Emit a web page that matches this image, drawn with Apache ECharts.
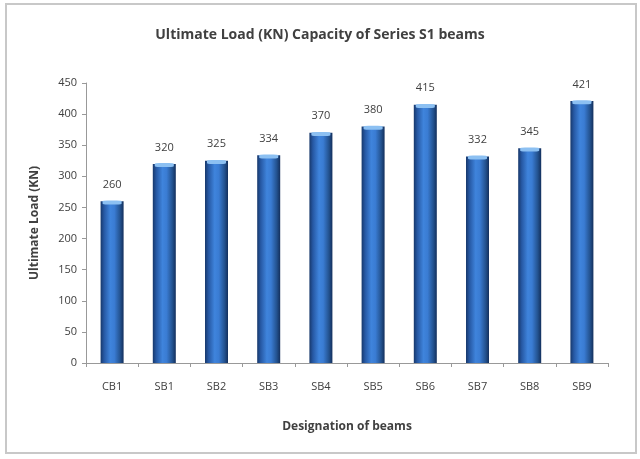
<!DOCTYPE html>
<html>
<head>
<meta charset="utf-8">
<script src="https://cdn.jsdelivr.net/npm/echarts@6/dist/echarts.min.js"></script>
<style>
  html, body { margin: 0; padding: 0; background: #ffffff; }
  #chart { width: 640px; height: 459px; }
</style>
</head>
<body>
<div id="chart"></div>
<script>
// Beam designations and their ultimate load capacities (kN)
const beams = ['CB1', 'SB1', 'SB2', 'SB3', 'SB4', 'SB5', 'SB6', 'SB7', 'SB8', 'SB9'];
const ultimateLoad = [260, 320, 325, 334, 370, 380, 415, 332, 345, 421];
const yTicks = { min: 0, max: 450, interval: 50 };

const FONT = '"Open Sans", sans-serif';
const TEXT = '#404040';

const chart = echarts.init(document.getElementById('chart'), null, { renderer: 'canvas' });

// cylindrical shading across each bar
const barFill = new echarts.graphic.LinearGradient(0, 0, 1, 0, [
  { offset: 0, color: '#17386b' },
  { offset: 0.15, color: '#2658a3' },
  { offset: 0.42, color: '#3f84dc' },
  { offset: 0.6, color: '#3a7cd3' },
  { offset: 0.85, color: '#23528f' },
  { offset: 1, color: '#132f5c' }
]);

chart.setOption({
  backgroundColor: '#ffffff',
  animation: false,
  title: {
    text: 'Ultimate Load (KN) Capacity of Series S1 beams',
    left: 'center',
    top: 23,
    textStyle: { fontFamily: FONT, fontSize: 14, fontWeight: 'bold', color: TEXT }
  },
  graphic: [{
    type: 'rect',
    shape: { x: 6, y: 4, width: 630, height: 449 },
    style: { fill: 'none', stroke: '#c8c8c8', lineWidth: 2 },
    silent: true
  }],
  grid: { left: 86, right: 32, top: 83, bottom: 96 },
  xAxis: {
    type: 'category',
    data: beams,
    name: 'Designation of beams',
    nameLocation: 'middle',
    nameGap: 58,
    nameTextStyle: { fontFamily: FONT, fontSize: 12, fontWeight: 'bold', color: TEXT },
    axisLine: { lineStyle: { color: '#999999' } },
    axisTick: { show: true, length: 4, lineStyle: { color: '#999999' } },
    axisLabel: { fontFamily: FONT, fontSize: 11, color: TEXT, margin: 18 }
  },
  yAxis: {
    type: 'value',
    min: yTicks.min,
    max: yTicks.max,
    interval: yTicks.interval,
    name: 'Ultimate Load (KN)',
    nameLocation: 'middle',
    nameGap: 45,
    nameRotate: 90,
    nameTextStyle: { fontFamily: FONT, fontSize: 12, fontWeight: 'bold', color: TEXT },
    axisLine: { show: true, lineStyle: { color: '#999999' } },
    axisTick: { show: true, length: 4, lineStyle: { color: '#999999' } },
    axisLabel: { fontFamily: FONT, fontSize: 11, color: TEXT, margin: 9 },
    splitLine: { show: false }
  },
  series: [
    {
      type: 'bar',
      data: ultimateLoad,
      barWidth: 23,
      itemStyle: { color: barFill },
      label: {
        show: true,
        position: 'top',
        distance: 11,
        fontFamily: FONT,
        fontSize: 11,
        color: TEXT
      },
      z: 2
    },
    {
      // light cap on the top of each bar
      type: 'pictorialBar',
      data: ultimateLoad,
      symbol: 'roundRect',
      symbolSize: [19, 4],
      symbolPosition: 'end',
      symbolOffset: [0, '-20%'],
      itemStyle: { color: '#8cc0f2' },
      z: 3,
      silent: true
    }
  ]
});
</script>
</body>
</html>
